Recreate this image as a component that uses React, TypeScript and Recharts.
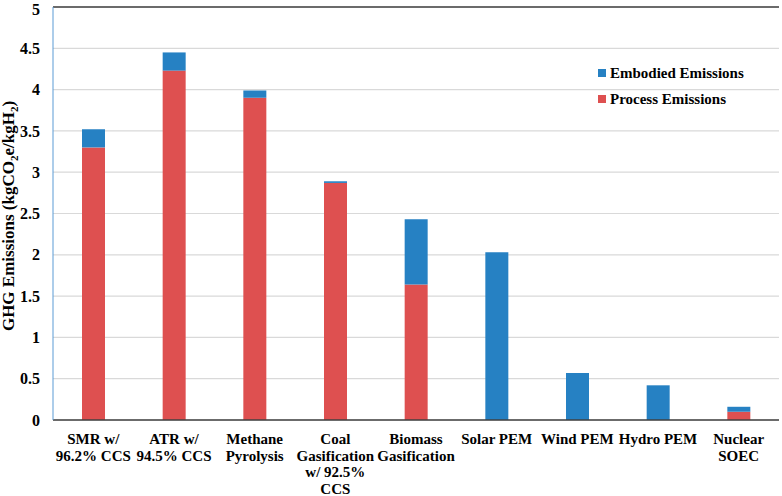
import React from 'react';
import { BarChart, Bar, XAxis, YAxis, CartesianGrid, ReferenceLine } from 'recharts';

const categories = [
  'SMR w/\n96.2% CCS',
  'ATR w/\n94.5% CCS',
  'Methane\nPyrolysis',
  'Coal\nGasification\nw/ 92.5%\nCCS',
  'Biomass\nGasification',
  'Solar PEM',
  'Wind PEM',
  'Hydro PEM',
  'Nuclear\nSOEC',
];
const processEmissions = [3.3, 4.23, 3.9, 2.87, 1.64, 0, 0, 0, 0.1];
const embodiedEmissions = [0.22, 0.22, 0.09, 0.02, 0.79, 2.03, 0.57, 0.42, 0.06];
const yTicks = [0, 0.5, 1, 1.5, 2, 2.5, 3, 3.5, 4, 4.5, 5];
const seriesNames = ['Embodied Emissions', 'Process Emissions'];

const RED = '#DE5050';
const BLUE = '#2681C3';
const FONT = 'Liberation Serif, Times New Roman, serif';

const data = categories.map((c, i) => ({
  name: c,
  process: processEmissions[i],
  embodied: embodiedEmissions[i],
}));

const XTick = (props: any) => {
  const { x, y, payload } = props;
  const lines = String(payload.value).split('\n');
  return (
    <text x={x} y={y} textAnchor="middle" fontFamily={FONT} fontWeight="bold" fontSize={15} fill="#000">
      {lines.map((l, i) => (
        <tspan key={i} x={x} dy={i === 0 ? 22 : 16.5}>
          {l}
        </tspan>
      ))}
    </text>
  );
};

const YLabel = () => {
  const cx = 14;
  const cy = 216;
  return (
    <text
      x={cx}
      y={cy}
      transform={`rotate(-90, ${cx}, ${cy})`}
      textAnchor="middle"
      fontFamily={FONT}
      fontWeight="bold"
      fontSize={17}
      fill="#000"
    >
      <tspan>GHG Emissions (kgCO</tspan>
      <tspan dy={4} fontSize={11}>2</tspan>
      <tspan dy={-4}>e/kgH</tspan>
      <tspan dy={4} fontSize={11}>2</tspan>
      <tspan dy={-4}>)</tspan>
    </text>
  );
};

export default function App() {
  return (
    <div style={{ position: 'absolute', left: 0, top: 0, width: 782, height: 496, background: '#fff' }}>
      <BarChart
        width={782}
        height={496}
        data={data}
        margin={{ top: 7, right: 3, left: 0, bottom: 0 }}
        barCategoryGap="36%"
      >
        <CartesianGrid vertical={false} stroke="#d9d9d9" strokeWidth={1.2} yAxisId="left" />
        <XAxis
          dataKey="name"
          interval={0}
          tickLine={false}
          tickSize={0}
          tick={<XTick />}
          height={76}
          axisLine={{ stroke: '#404040', strokeWidth: 1.5 }}
        />
        <YAxis
          yAxisId="left"
          domain={[0, 5]}
          ticks={yTicks}
          width={53}
          tickLine={false}
          tickSize={0}
          tickMargin={13}
          axisLine={{ stroke: '#5b9bd5', strokeWidth: 1 }}
          tick={{ fontFamily: FONT, fontWeight: 'bold', fontSize: 16, fill: '#000' }}
          label={<YLabel />}
        />
        <YAxis
          yAxisId="right"
          orientation="right"
          domain={[0, 5]}
          ticks={yTicks}
          width={0}
          tick={false}
          tickLine={false}
          axisLine={{ stroke: '#404040', strokeWidth: 1.5 }}
        />
        <ReferenceLine yAxisId="left" y={5} stroke="#404040" strokeWidth={1.5} />
        <Bar yAxisId="left" dataKey="process" stackId="a" fill={RED} isAnimationActive={false} barSize={23} />
        <Bar yAxisId="left" dataKey="embodied" stackId="a" fill={BLUE} isAnimationActive={false} barSize={23} />
      </BarChart>
      <svg
        width={180}
        height={60}
        style={{ position: 'absolute', left: 594, top: 58 }}
      >
        {seriesNames.map((n, i) => (
          <g key={n} transform={`translate(0, ${i * 26})`}>
            <rect x={4} y={11} width={8} height={8} fill={i === 0 ? BLUE : RED} />
            <text x={16} y={20} fontFamily={FONT} fontWeight="bold" fontSize={15} fill="#000">
              {n}
            </text>
          </g>
        ))}
      </svg>
    </div>
  );
}
